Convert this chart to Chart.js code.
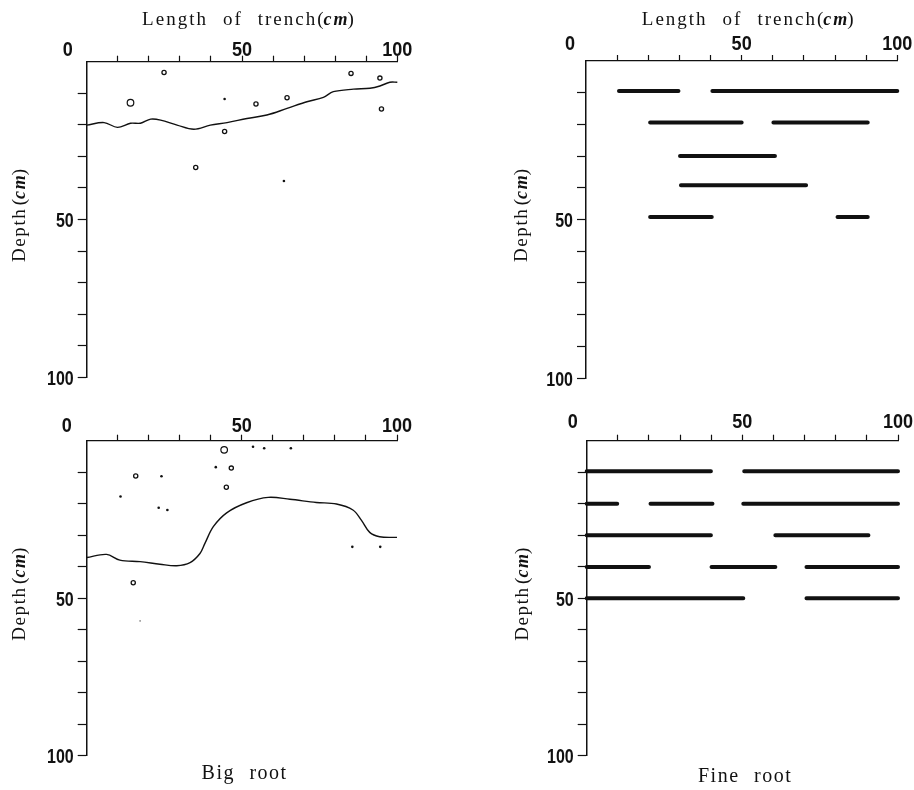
<!DOCTYPE html>
<html><head><meta charset="utf-8">
<script src="https://cdn.jsdelivr.net/npm/chart.js@4.4.1/dist/chart.umd.min.js"></script>
<style>
html,body{margin:0;padding:0;background:#fff;}
#wrap{position:relative;width:914px;height:790px;background:#fff;overflow:hidden;}
canvas{position:absolute;}
</style></head><body>
<div id="wrap">
<canvas id="tl" width="457" height="395" style="left:0px;top:0px;width:457px;height:395px"></canvas>
<canvas id="tr" width="457" height="395" style="left:457px;top:0px;width:457px;height:395px"></canvas>
<canvas id="bl" width="457" height="395" style="left:0px;top:395px;width:457px;height:395px"></canvas>
<canvas id="br" width="457" height="395" style="left:457px;top:395px;width:457px;height:395px"></canvas>
</div>
<script>
// ---------- tick labels ----------
const xTickLabels = [0, 50, 100];
const yTickLabels = [50, 100];

// ---------- Big root, upper trench ----------
const bigTopCurveX     = [0, 5.6, 9.9, 14.1, 17.3, 20.6, 23.8, 29.1, 34.5, 39.8, 45.2, 51.6, 58.0, 64.5, 70.9, 76.2, 79.4, 85.9, 91.2, 94.4, 97.6, 100];
const bigTopCurveDepth = [20.1, 19.3, 20.8, 19.5, 19.5, 18.2, 18.5, 20.1, 21.4, 20.1, 19.3, 18.0, 16.9, 14.8, 12.7, 11.3, 9.5, 8.7, 8.4, 7.7, 6.5, 6.5];
const bigTopLargeX     = [14.1];
const bigTopLargeDepth = [13.0];
const bigTopSmallX     = [24.9, 54.5, 64.5, 85.1, 94.4, 94.9, 44.4, 35.1];
const bigTopSmallDepth = [3.4, 13.4, 11.4, 3.7, 5.2, 15.0, 22.1, 33.5];
const bigTopDotX       = [44.4, 63.5];
const bigTopDotDepth   = [11.8, 37.8];

// ---------- Big root, lower trench ----------
const bigBotCurveX     = [0, 6.4, 10.7, 17.2, 23.6, 29.0, 33.3, 36.5, 38.1, 40.8, 45.1, 51.5, 58.5, 65.5, 74.0, 80.5, 85.8, 88.5, 91.2, 94.4, 100];
const bigBotCurveDepth = [37.1, 36.1, 37.9, 38.4, 39.2, 39.7, 38.7, 35.8, 32.6, 27.3, 22.9, 19.7, 18.0, 18.6, 19.6, 20.1, 22.0, 25.2, 29.1, 30.5, 30.7];
const bigBotLargeX     = [44.3];
const bigBotLargeDepth = [2.9];
const bigBotSmallX     = [46.6, 15.8, 45.0, 15.0];
const bigBotSmallDepth = [8.7, 11.2, 14.8, 45.1];
const bigBotDotX       = [53.6, 57.2, 65.8, 41.6, 24.1, 10.9, 23.2, 26.0, 85.6, 94.6];
const bigBotDotDepth   = [1.9, 2.4, 2.4, 8.4, 11.3, 17.7, 21.3, 22.0, 33.7, 33.7];
const bigBotSpeckX     = [17.2];
const bigBotSpeckDepth = [57.2];

// ---------- Fine root, upper trench (one entry per segment) ----------
const fineTopSegDepth = [9.5, 9.5, 19.4, 19.4, 30.0, 39.2, 49.2, 49.2];
const fineTopSegStart = [10.6, 40.6, 20.6, 60.2, 30.2, 30.5, 20.6, 80.8];
const fineTopSegEnd   = [29.7, 100, 50.0, 90.5, 60.7, 70.7, 40.4, 90.5];

// ---------- Fine root, lower trench ----------
const fineBotSegDepth = [9.7, 9.7, 20.0, 20.0, 20.0, 30.0, 30.0, 40.1, 40.1, 40.1, 50.0, 50.0];
const fineBotSegStart = [0, 50.6, 0, 20.5, 50.3, 0, 60.6, 0, 40.1, 70.6, 0, 70.6];
const fineBotSegEnd   = [39.9, 100, 9.8, 40.4, 100, 39.9, 90.5, 20.0, 60.6, 100, 50.3, 100];

// ---------- helpers ----------
const INK = '#111';
const zip = (xs, ys) => xs.map((x, i) => ({x: x, y: ys[i]}));
function segData(depth, start, end) {
  const out = [];
  depth.forEach((d, i) => {
    out.push({x: start[i], y: d});
    out.push({x: end[i], y: d});
    out.push({x: end[i], y: null});
  });
  return out;
}
function curveDs(xs, ys) {
  return {data: zip(xs, ys), showLine: true, pointRadius: 0, borderColor: INK, borderWidth: 1.4, tension: 0.35, fill: false, clip: false};
}
function circleDs(xs, ys, r, filled, bw) {
  return {data: zip(xs, ys), showLine: false, pointStyle: 'circle', pointRadius: r, pointHoverRadius: r,
    pointBorderWidth: bw, pointBorderColor: INK, pointBackgroundColor: filled ? INK : '#fff', clip: false};
}
function segDs(depth, start, end) {
  return {data: segData(depth, start, end), showLine: true, spanGaps: false, pointRadius: 0, borderColor: INK,
    borderWidth: 4, borderCapStyle: 'round', tension: 0, fill: false, clip: false};
}

function measureParts(ctx, parts, font, ifont, sp) {
  let w = 0;
  parts.forEach(p => {
    if (p.g !== undefined) { w += p.g; return; }
    ctx.font = p.it ? ifont : font;
    for (const ch of p.t) w += ctx.measureText(ch).width + sp;
    w -= sp;
  });
  return w;
}
function drawParts(ctx, parts, font, ifont, sp, x, y) {
  let cx = x - measureParts(ctx, parts, font, ifont, sp) / 2;
  ctx.textAlign = 'left';
  ctx.textBaseline = 'alphabetic';
  parts.forEach(p => {
    if (p.g !== undefined) { cx += p.g; return; }
    ctx.font = p.it ? ifont : font;
    for (const ch of p.t) { ctx.fillText(ch, cx, y); cx += ctx.measureText(ch).width + sp; }
    cx -= sp;
  });
}
function squeezeText(ctx, t, x, y, sx, align) {
  ctx.save();
  ctx.translate(x, y);
  ctx.scale(sx, 1);
  ctx.textAlign = align;
  ctx.textBaseline = 'alphabetic';
  ctx.fillText(t, 0, 0);
  ctx.restore();
}

const SERIF = '"Liberation Serif", "Times New Roman", serif';
const labelPlugin = {
  id: 'rootLabels',
  afterDraw(chart, args, o) {
    const ctx = chart.ctx, xs = chart.scales.x, ys = chart.scales.y, ca = chart.chartArea;
    ctx.save();
    ctx.fillStyle = INK;
    // x tick labels
    ctx.font = 'bold 21px "Liberation Sans", Arial, sans-serif';
    xTickLabels.forEach(v => {
      const px = xs.getPixelForValue(v) + (v === 0 ? o.zeroShift : 0);
      squeezeText(ctx, String(v), px, ca.top - o.xGap, 0.86, 'center');
    });
    // y tick labels
    ctx.font = 'bold 20px "Liberation Sans", Arial, sans-serif';
    yTickLabels.forEach(v => {
      squeezeText(ctx, String(v), ca.left - 13, ys.getPixelForValue(v) + 7.5, 0.8, 'right');
    });
    // Depth title (rotated)
    ctx.save();
    ctx.translate(ca.left + o.depthDx, (ca.top + ca.bottom) / 2 - 4);
    ctx.rotate(-Math.PI / 2);
    drawParts(ctx, [{t: 'Depth'}, {g: 4}, {t: '('}, {t: 'cm', it: true}, {t: ')'}],
      '19px ' + SERIF, 'italic bold 18px ' + SERIF, 1.6, 0, 0);
    ctx.restore();
    const cxm = (ca.left + ca.right) / 2;
    if (o.top) {
      drawParts(ctx, [{t: 'Length'}, {g: 17}, {t: 'of'}, {g: 17}, {t: 'trench'}, {g: 2}, {t: '('}, {t: 'cm', it: true}, {t: ')'}],
        '19px ' + SERIF, 'italic bold 18px ' + SERIF, 2, cxm + 6, 25);
    }
    if (o.caption) {
      const words = o.caption.split(' ');
      drawParts(ctx, [{t: words[0]}, {g: 16}, {t: words[1]}], '20px ' + SERIF, '20px ' + SERIF, 1.5, cxm + 2, ca.bottom + o.capDy);
    }
    ctx.restore();
  }
};

const tickCol = c => (c.tick && c.tick.value === 0) ? 'rgba(0,0,0,0)' : INK;

function makeChart(id, pad, datasets, lab) {
  return new Chart(document.getElementById(id), {
    type: 'scatter',
    data: {datasets: datasets},
    options: {
      responsive: false, animation: false, devicePixelRatio: 1,
      events: [],
      layout: {padding: pad},
      plugins: {legend: {display: false}, tooltip: {enabled: false}, rootLabels: lab},
      scales: {
        x: {type: 'linear', position: 'top', min: 0, max: 100,
          ticks: {display: false, stepSize: 10, autoSkip: false},
          grid: {drawOnChartArea: false, drawTicks: true, tickLength: 6, tickWidth: 1.2, tickColor: tickCol, color: tickCol},
          border: {display: true, color: INK, width: 1.3},
          afterFit: s => { s.height = 6; }
        },
        y: {type: 'linear', position: 'left', reverse: true, min: 0, max: 100,
          ticks: {display: false, stepSize: 10, autoSkip: false},
          grid: {drawOnChartArea: false, drawTicks: true, tickLength: 9, tickWidth: 1.2, tickColor: tickCol, color: tickCol},
          border: {display: true, color: INK, width: 1.5},
          afterFit: s => { s.width = 9; }
        }
      }
    },
    plugins: [labelPlugin]
  });
}

// chart areas (page px): TL 86.7-397.3 x 61.7-377.3 ; TR 586-897.3 x 61-378 ; BL 86.7-397 x 440.7-755.7 ; BR 586.7-898 x 440.7-755.7
makeChart('tl', {left: 77.7, top: 55.7, right: 59.7, bottom: 17.7}, [
  curveDs(bigTopCurveX, bigTopCurveDepth),
  circleDs(bigTopLargeX, bigTopLargeDepth, 3.3, false, 1.2),
  circleDs(bigTopSmallX, bigTopSmallDepth, 2.1, false, 1.3),
  circleDs(bigTopDotX, bigTopDotDepth, 1.3, true, 0)
], {top: true, zeroShift: -19, xGap: 6, depthDx: -62});

makeChart('tr', {left: 120, top: 55, right: 16.7, bottom: 17}, [
  segDs(fineTopSegDepth, fineTopSegStart, fineTopSegEnd)
], {top: true, zeroShift: -16, xGap: 11, depthDx: -59});

makeChart('bl', {left: 77.7, top: 39.7, right: 60, bottom: 34.3}, [
  curveDs(bigBotCurveX, bigBotCurveDepth),
  circleDs(bigBotLargeX, bigBotLargeDepth, 3.3, false, 1.2),
  circleDs(bigBotSmallX, bigBotSmallDepth, 2.1, false, 1.3),
  circleDs(bigBotDotX, bigBotDotDepth, 1.3, true, 0),
  circleDs(bigBotSpeckX, bigBotSpeckDepth, 0.6, true, 0)
], {top: false, zeroShift: -20, xGap: 9, depthDx: -62, caption: 'Big root', capDy: 23});

makeChart('br', {left: 120.7, top: 39.7, right: 16, bottom: 34.3}, [
  segDs(fineBotSegDepth, fineBotSegStart, fineBotSegEnd)
], {top: false, zeroShift: -14, xGap: 13, depthDx: -59, caption: 'Fine root', capDy: 26});
</script>
</body></html>
